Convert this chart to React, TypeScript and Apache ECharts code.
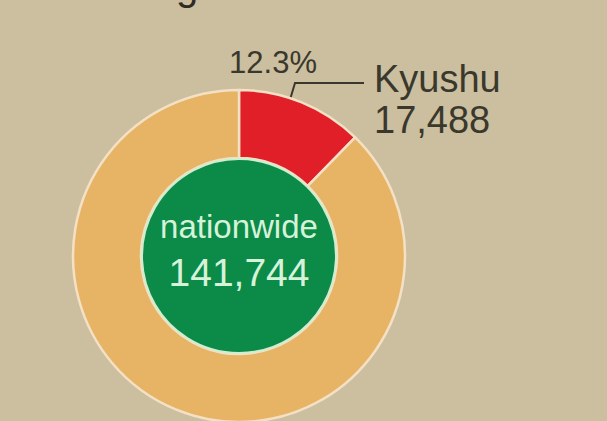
import React, { useEffect, useRef } from "react";
import * as echarts from "echarts";

const categories = ["Kyushu", "Other regions"];
const values = [17488, 124256];
const totalLabel = "nationwide";
const totalValue = 141744;
const colors = ["#e01f28", "#e7b466"];

const FONT = "'Liberation Sans', Arial, Helvetica, sans-serif";

export default function App() {
  const ref = useRef<HTMLDivElement>(null);
  useEffect(() => {
    if (!ref.current) return;
    const chart = echarts.init(ref.current, undefined, { renderer: "svg" });
    const fmt = (n: number) => n.toLocaleString("en-US");
    const pct = ((values[0] / totalValue) * 100).toFixed(1) + "%";
    chart.setOption({
      animation: false,
      backgroundColor: "#cbbf9f",
      graphic: [
        {
          type: "text",
          left: 176,
          top: -34,
          style: { text: "g", font: `40px ${FONT}`, fill: "#2e2c24" },
          silent: true,
        },
        {
          type: "text",
          x: 273,
          y: 62,
          style: {
            text: pct,
            font: `31px ${FONT}`,
            fill: "#3a382c",
            align: "center",
            verticalAlign: "middle",
          },
          silent: true,
        },
      ],
      series: [
        {
          type: "pie",
          center: [239, 256],
          radius: [98, 166],
          startAngle: 90,
          clockwise: true,
          silent: true,
          itemStyle: { borderColor: "#f4e0c4", borderWidth: 2.5 },
          labelLine: { show: true, lineStyle: { color: "#3a382c", width: 2 } },
          label: {
            show: true,
            position: "outside",
            formatter: (p: any) => `{n|${p.name}}\n{v|${fmt(p.value)}}`,
            rich: {
              n: { fontFamily: FONT, fontSize: 38, lineHeight: 41, color: "#3a382c" },
              v: { fontFamily: FONT, fontSize: 38, lineHeight: 41, color: "#3a382c" },
            },
          },
          labelLayout: (params: any) => {
            if (params.dataIndex !== 0) return {};
            return {
              x: 374,
              y: 99,
              align: "left",
              verticalAlign: "middle",
              labelLinePoints: [
                [286, 113],
                [295, 83],
                [364, 83],
              ],
            };
          },
          data: categories.map((c, i) => ({
            name: c,
            value: values[i],
            itemStyle: { color: colors[i] },
            label: { show: i === 0 },
            labelLine: { show: i === 0 },
          })),
        },
        {
          type: "pie",
          center: [239, 256],
          radius: [0, 97],
          silent: true,
          itemStyle: { color: "#0b8a48", borderColor: "#cfeecf", borderWidth: 2 },
          label: {
            show: true,
            position: "center",
            offset: [0, -7],
            formatter: () => `{a|${totalLabel}}\n{b|${fmt(totalValue)}}`,
            rich: {
              a: { fontFamily: FONT, fontSize: 33, lineHeight: 46, color: "#d6f3da" },
              b: { fontFamily: FONT, fontSize: 39, lineHeight: 46, color: "#d6f3da" },
            },
          },
          labelLine: { show: false },
          data: [{ name: totalLabel, value: totalValue }],
        },
      ],
    });
    return () => chart.dispose();
  }, []);
  return (
    <div
      ref={ref}
      style={{ position: "fixed", left: 0, top: 0, width: 607, height: 421 }}
    />
  );
}
